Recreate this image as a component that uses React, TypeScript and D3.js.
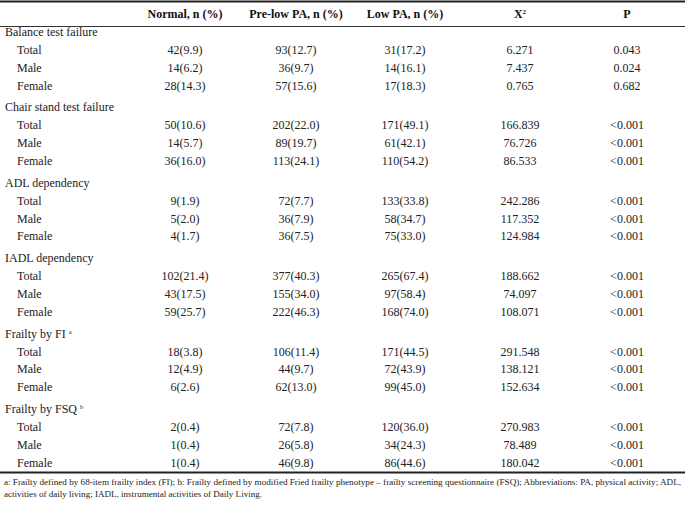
import React from "react";
import * as d3 from "d3";

const columns = ["Normal, n (%)", "Pre-low PA, n (%)", "Low PA, n (%)", "X", "P"];
const groups = [
  { name: "Balance test failure", sup: "" },
  { name: "Chair stand test failure", sup: "" },
  { name: "ADL dependency", sup: "" },
  { name: "IADL dependency", sup: "" },
  { name: "Frailty by FI", sup: "a" },
  { name: "Frailty by FSQ", sup: "b" },
];
const subRows = ["Total", "Male", "Female"];
const normal = [
  ["42(9.9)", "14(6.2)", "28(14.3)"],
  ["50(10.6)", "14(5.7)", "36(16.0)"],
  ["9(1.9)", "5(2.0)", "4(1.7)"],
  ["102(21.4)", "43(17.5)", "59(25.7)"],
  ["18(3.8)", "12(4.9)", "6(2.6)"],
  ["2(0.4)", "1(0.4)", "1(0.4)"],
];
const preLow = [
  ["93(12.7)", "36(9.7)", "57(15.6)"],
  ["202(22.0)", "89(19.7)", "113(24.1)"],
  ["72(7.7)", "36(7.9)", "36(7.5)"],
  ["377(40.3)", "155(34.0)", "222(46.3)"],
  ["106(11.4)", "44(9.7)", "62(13.0)"],
  ["72(7.8)", "26(5.8)", "46(9.8)"],
];
const low = [
  ["31(17.2)", "14(16.1)", "17(18.3)"],
  ["171(49.1)", "61(42.1)", "110(54.2)"],
  ["133(33.8)", "58(34.7)", "75(33.0)"],
  ["265(67.4)", "97(58.4)", "168(74.0)"],
  ["171(44.5)", "72(43.9)", "99(45.0)"],
  ["120(36.0)", "34(24.3)", "86(44.6)"],
];
const chi2 = [
  ["6.271", "7.437", "0.765"],
  ["166.839", "76.726", "86.533"],
  ["242.286", "117.352", "124.984"],
  ["188.662", "74.097", "108.071"],
  ["291.548", "138.121", "152.634"],
  ["270.983", "78.489", "180.042"],
];
const pVals = [
  ["0.043", "0.024", "0.682"],
  ["<0.001", "<0.001", "<0.001"],
  ["<0.001", "<0.001", "<0.001"],
  ["<0.001", "<0.001", "<0.001"],
  ["<0.001", "<0.001", "<0.001"],
  ["<0.001", "<0.001", "<0.001"],
];
const footnote1 =
  "a: Frailty defined by 68-item frailty index (FI); b: Frailty defined by modified Fried frailty phenotype – frailty screening questionnaire (FSQ); Abbreviations: PA, physical activity; ADL,";
const footnote2 = "activities of daily living; IADL, instrumental activities of Daily Living.";

const W = 685;
const H = 506;
const FONT = "'Liberation Serif', 'Times New Roman', serif";
const FS = 12;
const colX = d3.scaleOrdinal<string, number>().domain(columns).range([185, 296, 405, 520, 627]);
const groupY = d3.scaleLinear().domain([0, 5]).range([32, 409]);
const subY = d3.scaleLinear().domain([0, 2]).range([18, 53.5]);

export default function App() {
  const series = [normal, preLow, low, chi2, pVals];
  return (
    <svg width={W} height={H} style={{ position: "absolute", left: 0, top: 0, background: "#fff" }} fontFamily={FONT}>
      <rect x={0} y={0} width={W} height={H} fill="#fff" />
      <line x1={0} x2={W} y1={1.5} y2={1.5} stroke="#222" strokeWidth={2.2} />
      <line x1={0} x2={W} y1={26.5} y2={26.5} stroke="#333" strokeWidth={1} />
      <line x1={0} x2={W} y1={472.5} y2={472.5} stroke="#222" strokeWidth={2} />
      {columns.map((c) => (
        <text key={c} x={colX(c)} y={18} textAnchor="middle" fontWeight="bold" fontSize={FS} fill="#111">
          {c}
          {c === "X" ? (
            <tspan fontSize={7} dy={-4}>
              2
            </tspan>
          ) : null}
        </text>
      ))}
      {groups.map((g, gi) => {
        const gy = groupY(gi);
        return (
          <g key={g.name}>
            <text x={5} y={gy + 4} fontSize={FS} fill="#222">
              {g.name}
              {g.sup ? (
                <tspan fontSize={6.5} dx={3} dy={-4}>
                  {g.sup}
                </tspan>
              ) : null}
            </text>
            {subRows.map((r, ri) => {
              const y = gy + subY(ri) + 4;
              return (
                <g key={r}>
                  <text x={17} y={y} fontSize={FS} fill="#222">
                    {r}
                  </text>
                  {series.map((s, ci) => (
                    <text key={ci} x={colX(columns[ci])} y={y} textAnchor="middle" fontSize={FS} fill="#222">
                      {s[gi][ri]}
                    </text>
                  ))}
                </g>
              );
            })}
          </g>
        );
      })}
      <text x={4} y={485} fontSize={8.6} fill="#222" textLength={677} lengthAdjust="spacingAndGlyphs">
        {footnote1}
      </text>
      <text x={4} y={497} fontSize={8.6} fill="#222" textLength={258} lengthAdjust="spacingAndGlyphs">
        {footnote2}
      </text>
    </svg>
  );
}
